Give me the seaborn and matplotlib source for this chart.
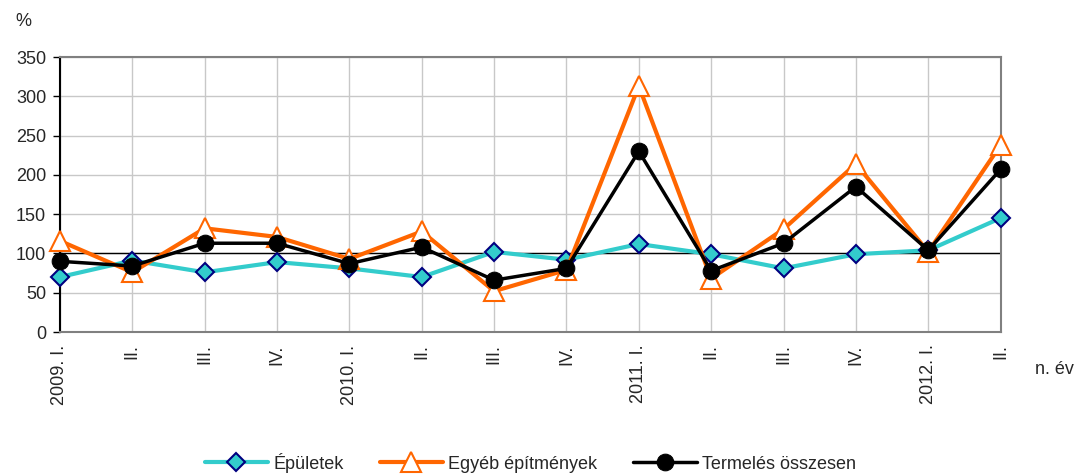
import pandas as pd
import matplotlib.pyplot as plt
import seaborn as sns

negyedevek = ["2009. I.", "II.", "III.", "IV.", "2010. I.", "II.", "III.", "IV.",
              "2011. I.", "II.", "III.", "IV.", "2012. I.", "II."]
epuletek = [70, 91, 76, 89, 81, 70, 102, 92, 112, 99, 81, 99, 104, 145]
egyeb = [116, 76, 132, 121, 93, 128, 52, 79, 313, 68, 131, 214, 102, 238]
termeles = [90, 84, 113, 113, 87, 108, 66, 81, 230, 78, 113, 185, 104, 207]

df = pd.DataFrame({"x": range(len(negyedevek)), "Épületek": epuletek,
                   "Egyéb építmények": egyeb, "Termelés összesen": termeles})

sns.set_theme(style="white")
plt.rcParams['font.family'] = ['Liberation Sans', 'DejaVu Sans']

fig = plt.figure(figsize=(10.75, 4.75), dpi=100)
ax = fig.add_axes([0.0558, 0.301, 0.875, 0.579])

ax.axhline(100, color="black", lw=1, zorder=1.5)

sns.lineplot(data=df, x="x", y="Épületek", ax=ax, color="#33CCCC", lw=3,
             marker="D", markersize=9, markerfacecolor="#33CCCC",
             markeredgecolor="#000080", markeredgewidth=1.5, label="Épületek",
             zorder=3, clip_on=False)
sns.lineplot(data=df, x="x", y="Egyéb építmények", ax=ax, color="#FF6600", lw=3,
             marker="^", markersize=14, markerfacecolor="white",
             markeredgecolor="#FF6600", markeredgewidth=1.5, label="Egyéb építmények",
             zorder=4, clip_on=False)
sns.lineplot(data=df, x="x", y="Termelés összesen", ax=ax, color="black", lw=2.5,
             marker="o", markersize=12, markerfacecolor="black",
             markeredgecolor="black", label="Termelés összesen",
             zorder=5, clip_on=False)

ax.set_xlim(0, len(negyedevek) - 1)
ax.set_ylim(0, 350)
ax.set_yticks(range(0, 351, 50))
ax.set_xticks(range(len(negyedevek)))
ax.set_xticklabels(negyedevek, rotation=90, va="top", ha="center")
ax.tick_params(axis="both", labelsize=13, length=5, width=1, color="black",
               direction="out", bottom=True, left=True, pad=5)
ax.tick_params(axis="x", length=0, pad=9)
ax.set_xlabel("")
ax.set_ylabel("")

ax.grid(True, color="#c8c8c8", lw=1)
ax.set_axisbelow(True)
for side in ["top", "right", "bottom"]:
    ax.spines[side].set_color("#808080")
    ax.spines[side].set_linewidth(1.5)
ax.spines["left"].set_color("black")
ax.spines["left"].set_linewidth(1.5)

fig.text(0.014, 0.955, "%", fontsize=13, ha="left", va="center")
fig.text(0.963, 0.222, "n. év", fontsize=13, ha="left", va="center")

ax.legend(loc="center", bbox_to_anchor=(0.5, -0.475), ncol=3, frameon=False,
          fontsize=13, handlelength=3.5, columnspacing=2.0, handletextpad=0.3)

fig.savefig("out.png", dpi=100)
